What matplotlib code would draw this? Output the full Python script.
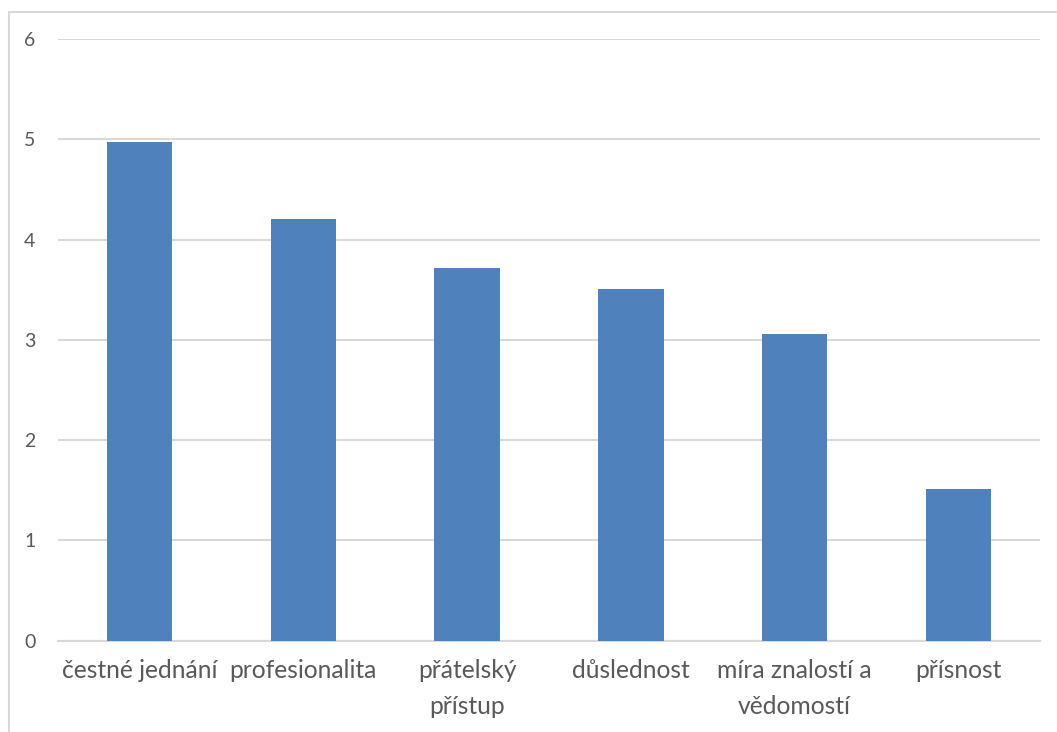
import matplotlib
matplotlib.use("Agg")
import matplotlib.pyplot as plt
from matplotlib.patches import Rectangle

categories = ["čestné jednání", "profesionalita", "přátelský\npřístup",
              "důslednost", "míra znalostí a\nvědomostí", "přísnost"]
values = [4.97, 4.21, 3.72, 3.51, 3.06, 1.51]
y_ticks = [0, 1, 2, 3, 4, 5, 6]

bar_color = "#4f81bd"
text_color = "#595959"
grid_color = "#d9d9d9"

plt.rcParams["font.family"] = ["Lato", "DejaVu Sans"]

W, H = 1057, 732
fig = plt.figure(figsize=(W / 100, H / 100), dpi=100)
fig.patch.set_facecolor("white")

# chart frame (left and top edges visible inside the canvas)
fig.patches.append(Rectangle((8.5 / W, -0.1), 1.2, (H - 11.5) / H + 0.1,
                             transform=fig.transFigure, fill=False,
                             edgecolor=grid_color, linewidth=1.5))

left, right = 57.7 / W, 1040.3 / W
bottom, top = (H - 640.7) / H, (H - 39.0) / H
ax = fig.add_axes([left, bottom, right - left, top - bottom])

x = range(len(categories))
ax.bar(x, values, width=0.4, color=bar_color, zorder=3)

ax.set_xlim(-0.5, len(categories) - 0.5)
ax.set_ylim(0, 6)
ax.set_yticks(y_ticks)
ax.set_yticklabels([str(t) for t in y_ticks])
ax.set_xticks(list(x))
ax.set_xticklabels(categories, linespacing=1.68, va="top")

ax.yaxis.grid(True, color=grid_color, linewidth=1.5, zorder=0)
ax.set_axisbelow(True)
for side in ("left", "right", "top"):
    ax.spines[side].set_visible(False)
ax.spines["bottom"].set_color(grid_color)
ax.spines["bottom"].set_linewidth(1.5)

ax.tick_params(axis="both", length=0, colors=text_color)
ax.tick_params(axis="y", labelsize=14, pad=16)
ax.tick_params(axis="x", labelsize=17.7, pad=13)
for lbl in ax.get_xticklabels() + ax.get_yticklabels():
    lbl.set_color(text_color)

fig.savefig("out.png", dpi=100)
